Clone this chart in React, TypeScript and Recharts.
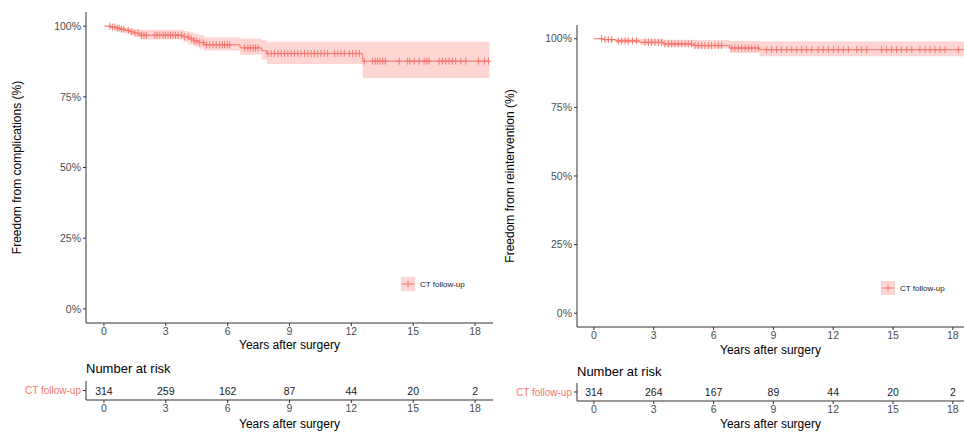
import React from 'react';
import { ComposedChart, Line, Area, Scatter, XAxis, YAxis, Legend } from 'recharts';

const RED = '#F8766D';
const AXIS = '#333333';
const TICK_TXT = '#4D4D4D';

// Freedom from complications (left panel)
const compTimes = [0, 0.3, 0.55, 0.8, 1.0, 1.25, 1.5, 1.75, 3.85, 4.1, 4.35, 4.6, 4.85, 6.6, 7.65, 7.9, 12.55, 18.7];
const compSurv = [100, 99.7, 99.3, 98.9, 98.5, 98.0, 97.5, 96.8, 96.2, 95.5, 94.8, 94.2, 93.4, 92.3, 91.3, 90.3, 87.6, 87.6];
const compUpper = [100, 100, 99.8, 99.6, 99.4, 99.2, 99.0, 98.7, 98.3, 97.8, 97.3, 96.8, 96.1, 95.6, 95.0, 94.5, 94.5, 94.5];
const compLower = [100, 99.2, 98.5, 97.9, 97.4, 96.8, 96.2, 95.3, 94.5, 93.6, 92.8, 92.1, 91.4, 89.9, 88.2, 86.6, 81.7, 81.7];
const compCensor = [
  0.29, 0.42, 0.53, 0.65, 0.74, 0.85, 0.97, 1.18, 1.34, 1.5, 1.66, 1.82, 1.94, 2.06, 2.47, 2.58, 2.71, 2.87,
  2.98, 3.11, 3.23, 3.35, 3.47, 3.6, 3.76, 3.92, 4.08, 4.24, 4.37, 4.48, 4.65, 4.81, 4.97, 5.13, 5.29, 5.45,
  5.61, 5.74, 5.85, 5.98, 6.1, 6.82, 6.98, 7.1, 7.23, 7.35, 7.47, 7.95, 8.11, 8.27, 8.44, 8.6, 8.76, 8.92,
  9.08, 9.24, 9.4, 9.56, 9.73, 9.89, 10.05, 10.21, 10.37, 10.53, 10.69, 10.85, 11.18, 11.34, 11.5, 11.66,
  11.9, 12.06, 12.23, 12.39, 12.63, 13.03, 13.16, 13.27, 13.39, 13.52, 13.65, 14.32, 14.73, 14.84, 15.05,
  15.29, 15.53, 15.66, 15.77, 16.26, 16.42, 16.58, 16.74, 16.9, 17.06, 17.31, 17.55, 18.16, 18.45, 18.65,
];

// Freedom from reintervention (right panel)
const reTimes = [0, 0.5, 1.1, 2.3, 3.5, 5.0, 6.8, 8.3, 18.6];
const reSurv = [100, 99.7, 99.2, 98.7, 98.1, 97.5, 96.6, 96.0, 96.0];
const reUpper = [100, 100, 100, 99.9, 99.6, 99.5, 99.2, 99.0, 99.0];
const reLower = [100, 99.1, 98.4, 97.8, 97.2, 96.4, 94.8, 93.6, 93.6];
const reCensor = [
  0.38, 0.55, 0.72, 0.89, 1.22, 1.39, 1.56, 1.72, 1.94, 2.14, 2.56, 2.73, 2.89, 3.06, 3.23, 3.39, 3.56, 3.73,
  3.9, 4.06, 4.23, 4.4, 4.57, 4.73, 4.9, 5.07, 5.23, 5.4, 5.57, 5.74, 5.9, 6.07, 6.24, 6.4, 6.91, 7.07, 7.24,
  7.41, 7.58, 7.74, 7.91, 8.08, 8.24, 8.66, 8.91, 9.16, 9.41, 9.67, 9.92, 10.17, 10.42, 10.67, 10.92, 11.25,
  11.5, 11.76, 12.01, 12.26, 12.51, 12.76, 13.18, 13.43, 13.68, 14.43, 14.68, 14.93, 15.18, 15.43, 15.69,
  15.94, 16.35, 16.61, 16.86, 17.11, 17.36, 17.61, 18.28,
];

// Number at risk
const riskYears = [0, 3, 6, 9, 12, 15, 18];
const compAtRisk = [314, 259, 162, 87, 44, 20, 2];
const reAtRisk = [314, 264, 167, 89, 44, 20, 2];
const strataLabel = 'CT follow-up';

const xTicks = [0, 3, 6, 9, 12, 15, 18];
const yTicks = [0, 25, 50, 75, 100];

const stepAt = (times: number[], surv: number[], t: number) => {
  let v = surv[0];
  for (let i = 0; i < times.length; i++) if (times[i] <= t) v = surv[i];
  return v;
};

const PlusMark = (props: any) => {
  const { cx, cy } = props;
  if (cx == null || cy == null) return null;
  return (
    <g>
      <line x1={cx - 2.5} x2={cx + 2.5} y1={cy} y2={cy} stroke={RED} strokeWidth={1} />
      <line x1={cx} x2={cx} y1={cy - 3.5} y2={cy + 3.5} stroke={RED} strokeWidth={1} />
    </g>
  );
};

const RiskNumber = (props: any) => {
  const { cx, cy, payload } = props;
  if (cx == null) return null;
  return (
    <text x={cx} y={cy} textAnchor="middle" dominantBaseline="central" fontSize={10.5} fill="#1a1a1a">
      {payload.n}
    </text>
  );
};

const StrataTick = (props: any) => (
  <text x={props.x} y={props.y} textAnchor="end" dominantBaseline="central" fill={RED} fontSize={10}>
    {strataLabel}
  </text>
);

const yTitle = (text: string, x: number, fallbackCy: number) => (props: any) => {
  const vb = props.viewBox;
  const cy = vb && vb.height ? vb.y + vb.height / 2 : fallbackCy;
  return (
    <text x={x} y={cy} transform={`rotate(-90 ${x} ${cy})`} textAnchor="middle" dominantBaseline="central" fontSize={12} fill="#000">
      {text}
    </text>
  );
};

const LegendKey = () => (
  <div style={{ display: 'flex', alignItems: 'center', fontSize: 8, color: '#1a1a1a', whiteSpace: 'nowrap' }}>
    <svg width={14} height={14} style={{ display: 'block' }}>
      <rect x={0} y={0} width={14} height={14} fill={RED} fillOpacity={0.3} />
      <line x1={1} x2={13} y1={7} y2={7} stroke={RED} />
      <line x1={7} x2={7} y1={3.5} y2={10.5} stroke={RED} />
    </svg>
    <span style={{ marginLeft: 5 }}>{strataLabel}</span>
  </div>
);

interface PanelProps {
  left: number;
  width: number;
  mainHeight: number;
  marginTop: number;
  marginRight: number;
  axisWidth: number;
  xAxisHeight: number;
  domain: [number, number];
  yLabel: string;
  yLabelX: number;
  times: number[];
  surv: number[];
  lower: number[];
  upper: number[];
  censor: number[];
  atRisk: number[];
  legendPos: { left: number; top: number };
  tableMarginTop: number;
  tableAxisHeight: number;
  riskTitleTop: number;
  titleOffset: number;
}

const SurvPanel: React.FC<PanelProps> = (p) => {
  const lineRows = p.times.map((t, i) => ({ t, s: p.surv[i] }));
  const bandRows = p.times.map((t, i) => ({ t, band: [p.lower[i], p.upper[i]] }));
  const censorRows = p.censor.map((t) => ({ t, s: stepAt(p.times, p.surv, t) }));
  const riskRows = riskYears.map((t, i) => ({ t, y: 0.5, n: p.atRisk[i] }));

  return (
    <>
      <div style={{ position: 'absolute', left: p.left, top: 0 }}>
        <ComposedChart
          width={p.width}
          height={p.mainHeight}
          margin={{ top: p.marginTop, right: p.marginRight, left: 0, bottom: 0 }}
        >
          <XAxis
            dataKey="t"
            type="number"
            domain={p.domain}
            ticks={xTicks}
            allowDataOverflow
            height={p.xAxisHeight}
            tickSize={3}
            stroke={AXIS}
            tick={{ fill: TICK_TXT, fontSize: 10.5 }}
            label={{ value: 'Years after surgery', position: 'insideBottom', offset: p.titleOffset, fill: '#000', fontSize: 12 }}
          />
          <YAxis
            dataKey="s"
            type="number"
            domain={[-5, 105]}
            ticks={yTicks}
            allowDataOverflow
            width={p.axisWidth}
            tickSize={3}
            stroke={AXIS}
            tick={{ fill: TICK_TXT, fontSize: 10.5 }}
            tickFormatter={(v: number) => `${v}%`}
            label={yTitle(p.yLabel, p.yLabelX, 170)}
          />
          <Area
            data={bandRows}
            dataKey="band"
            type="stepAfter"
            stroke="none"
            fill={RED}
            fillOpacity={0.3}
            isAnimationActive={false}
          />
          <Line
            data={lineRows}
            dataKey="s"
            type="stepAfter"
            stroke={RED}
            strokeWidth={1}
            dot={false}
            isAnimationActive={false}
          />
          <Scatter data={censorRows} dataKey="s" shape={<PlusMark />} isAnimationActive={false} />
          <Legend
            verticalAlign="middle"
            align="center"
            content={<LegendKey />}
            wrapperStyle={{ left: p.legendPos.left, top: p.legendPos.top, width: 90, height: 14 }}
          />
        </ComposedChart>
      </div>

      <div
        style={{
          position: 'absolute',
          left: p.left + p.axisWidth,
          top: p.riskTitleTop,
          fontSize: 13,
          lineHeight: '15px',
          color: '#000',
        }}
      >
        Number at risk
      </div>

      <div style={{ position: 'absolute', left: p.left, top: 358 }}>
        <ComposedChart
          width={p.width}
          height={74}
          margin={{ top: p.tableMarginTop, right: p.marginRight, left: 0, bottom: 0 }}
        >
          <XAxis
            dataKey="t"
            type="number"
            domain={p.domain}
            ticks={xTicks}
            allowDataOverflow
            height={p.tableAxisHeight}
            tickSize={3}
            stroke={AXIS}
            tick={{ fill: TICK_TXT, fontSize: 10.5 }}
            label={{ value: 'Years after surgery', position: 'insideBottom', offset: 4, fill: '#000', fontSize: 12 }}
          />
          <YAxis
            dataKey="y"
            type="number"
            domain={[0, 1]}
            ticks={[0.5]}
            width={p.axisWidth}
            tickSize={3}
            stroke={AXIS}
            tick={<StrataTick />}
          />
          <Scatter data={riskRows} dataKey="y" shape={<RiskNumber />} isAnimationActive={false} />
        </ComposedChart>
      </div>
    </>
  );
};

export default function App() {
  return (
    <div
      style={{
        position: 'absolute',
        left: 0,
        top: 0,
        width: 964,
        height: 432,
        background: '#fff',
        overflow: 'hidden',
        fontFamily: '"Liberation Sans", Arial, sans-serif',
      }}
    >
      <SurvPanel
        left={0}
        width={500}
        mainHeight={353}
        marginTop={12}
        marginRight={7}
        axisWidth={86}
        xAxisHeight={30}
        domain={[-0.87, 18.87]}
        yLabel="Freedom from complications (%)"
        yLabelX={17}
        times={compTimes}
        surv={compSurv}
        lower={compLower}
        upper={compUpper}
        censor={compCensor}
        atRisk={compAtRisk}
        legendPos={{ left: 401, top: 277 }}
        tableMarginTop={23}
        tableAxisHeight={32}
        riskTitleTop={361}
        titleOffset={4}
      />
      <SurvPanel
        left={490}
        width={474}
        mainHeight={358}
        marginTop={25}
        marginRight={0}
        axisWidth={87}
        xAxisHeight={31}
        domain={[-0.85, 18.56]}
        yLabel="Freedom from reintervention (%)"
        yLabelX={20}
        times={reTimes}
        surv={reSurv}
        lower={reLower}
        upper={reUpper}
        censor={reCensor}
        atRisk={reAtRisk}
        legendPos={{ left: 391, top: 281 }}
        tableMarginTop={25}
        tableAxisHeight={31}
        riskTitleTop={364}
        titleOffset={4.5}
      />
    </div>
  );
}
